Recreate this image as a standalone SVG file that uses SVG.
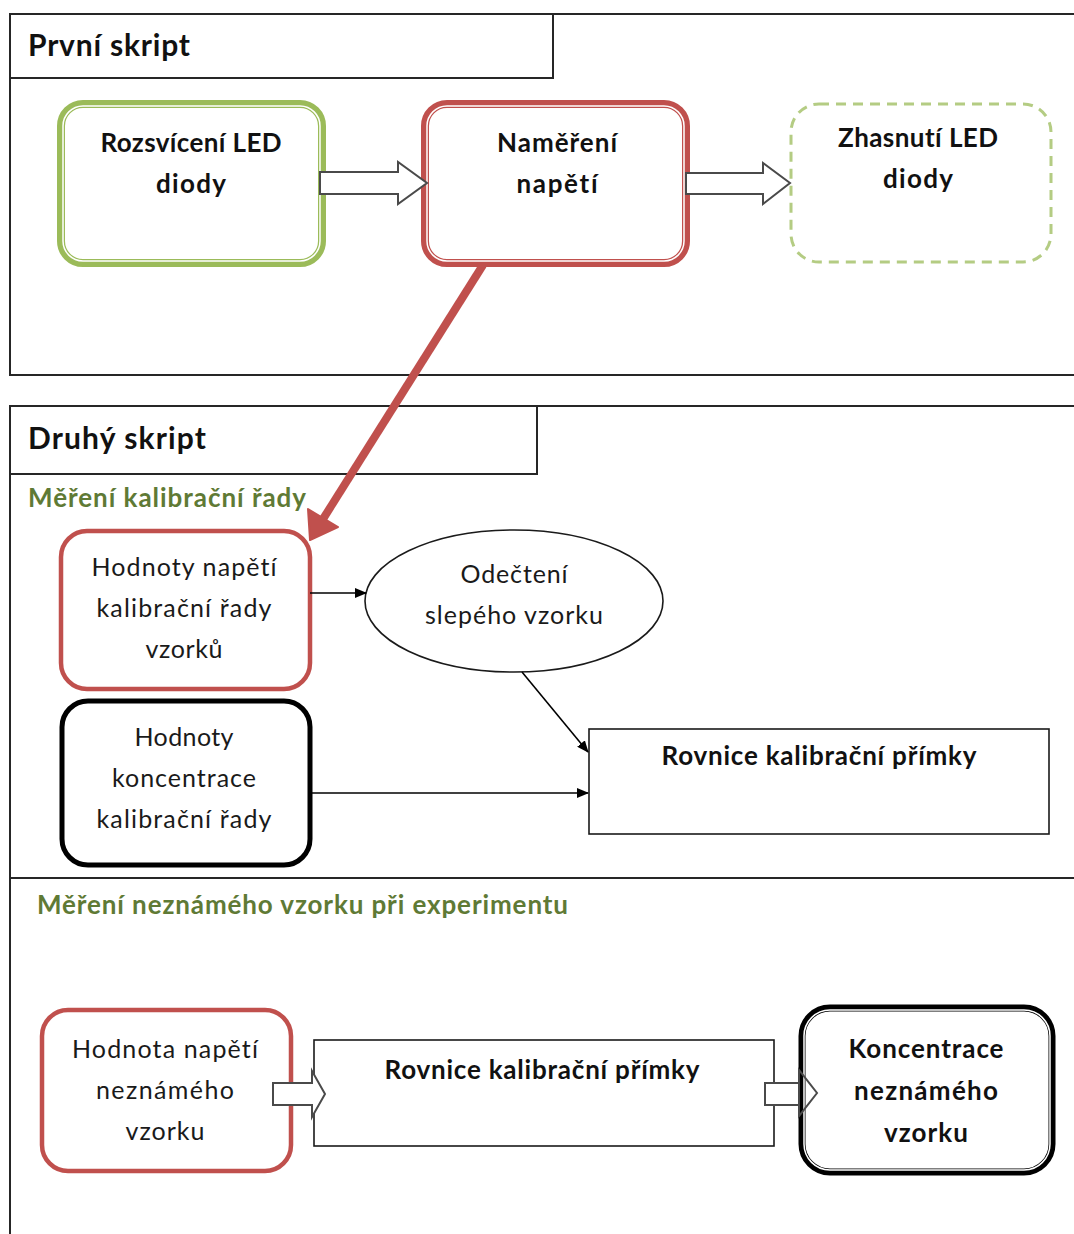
<svg xmlns="http://www.w3.org/2000/svg" width="1074" height="1234" viewBox="0 0 1074 1234">
  <style>
    text { font-family: Lato, "Open Sans", "Liberation Sans", sans-serif; font-variant-ligatures: none; font-feature-settings: "liga" 0, "clig" 0; }
    .frame { fill: none; stroke: #262626; stroke-width: 2; }
    .hdr { font-weight: bold; font-size: 30px; fill: #111; }
    .sub { font-weight: bold; font-size: 26px; fill: #5f7a35; }
    .bold { font-weight: bold; font-size: 26px; fill: #111; text-anchor: middle; }
    .reg { font-size: 25px; fill: #1a1a1a; text-anchor: middle; }
    .thick-green { fill: none; stroke: #9bbb59; stroke-width: 8; }
    .thick-red { fill: none; stroke: #c0504d; stroke-width: 8; }
    .thick-black { fill: none; stroke: #000; stroke-width: 7; }
    .gap { fill: none; stroke: #fff; stroke-width: 1.5; }
    .red-box { fill: none; stroke: #c0504d; stroke-width: 4.5; }
    .black-box { fill: none; stroke: #000; stroke-width: 5; }
    .plain { fill: none; stroke: #1a1a1a; stroke-width: 1.6; }
    .wire { fill: none; stroke: #000; stroke-width: 1.6; }
    .block { fill: #fff; stroke: #4a4a4a; stroke-width: 2; stroke-linejoin: miter; }
  </style>
  <defs>
    <marker id="tri" viewBox="0 0 12 10" refX="11" refY="5" markerWidth="12" markerHeight="10" markerUnits="userSpaceOnUse" orient="auto">
      <path d="M0,0 L12,5 L0,10 Z" fill="#000"/>
    </marker>
  </defs>

  <rect width="1074" height="1234" fill="#fff"/>

  <!-- first script frame -->
  <g id="frame-first">
    <path class="frame" d="M1074,14 H10 V375 H1074"/>
    <rect class="frame" x="10" y="14" width="543" height="64"/>
    <text class="hdr" x="28" y="56" textLength="162">První skript</text>
  </g>

  <!-- second script frame -->
  <g id="frame-second">
    <path class="frame" d="M1074,406 H10 V1234"/>
    <rect class="frame" x="10" y="406" width="527" height="68"/>
    <text class="hdr" x="28" y="449" textLength="178">Druhý skript</text>
    <path class="frame" d="M10,878 H1074"/>
    <text class="sub" x="28" y="507" textLength="278">Měření kalibrační řady</text>
    <text class="sub" x="37" y="914" textLength="531">Měření neznámého vzorku při experimentu</text>
  </g>

  <!-- first script nodes -->
  <g id="node-led-on">
    <rect class="thick-green" x="61" y="104" width="261" height="159" rx="22"/>
    <rect class="gap" x="63" y="106" width="257" height="155" rx="20"/>
    <text class="bold" x="191" y="152" textLength="181">Rozsvícení LED</text>
    <text class="bold" x="191" y="193" textLength="70">diody</text>
  </g>
  <g id="node-measure">
    <rect class="thick-red" x="425" y="104" width="261" height="159" rx="22"/>
    <rect class="gap" x="427" y="106" width="257" height="155" rx="20"/>
    <text class="bold" x="557" y="152" textLength="120">Naměření</text>
    <text class="bold" x="557" y="193" textLength="81">napětí</text>
  </g>
  <g id="node-led-off">
    <rect x="791" y="104" width="260" height="158" rx="28" fill="none" stroke="#9bbb59" stroke-opacity="0.75" stroke-width="3" stroke-dasharray="10 7"/>
    <text class="bold" x="918" y="147" textLength="160">Zhasnutí LED</text>
    <text class="bold" x="918" y="188" textLength="70">diody</text>
  </g>

  <!-- second script nodes -->
  <g id="node-cal-voltage">
    <rect class="red-box" x="61" y="531" width="249" height="158" rx="26"/>
    <text class="reg" x="184" y="576" textLength="185">Hodnoty napětí</text>
    <text class="reg" x="184" y="617" textLength="175">kalibrační řady</text>
    <text class="reg" x="184" y="658" textLength="77">vzorků</text>
  </g>
  <g id="node-cal-conc">
    <rect class="black-box" x="62" y="701" width="248" height="164" rx="26"/>
    <text class="reg" x="184" y="746" textLength="99">Hodnoty</text>
    <text class="reg" x="184" y="787" textLength="144">koncentrace</text>
    <text class="reg" x="184" y="828" textLength="175">kalibrační řady</text>
  </g>
  <g id="node-blank">
    <ellipse class="plain" cx="514" cy="601" rx="149" ry="71"/>
    <text class="reg" x="514" y="583" textLength="107">Odečtení</text>
    <text class="reg" x="514" y="624" textLength="178">slepého vzorku</text>
  </g>
  <g id="node-equation">
    <rect class="plain" x="589" y="729" width="460" height="105"/>
    <text class="bold" x="819" y="765" textLength="315">Rovnice kalibrační přímky</text>
  </g>
  <g id="node-unknown-voltage">
    <rect class="red-box" x="42" y="1010" width="249" height="161" rx="26"/>
    <text class="reg" x="165" y="1058" textLength="186">Hodnota napětí</text>
    <text class="reg" x="165" y="1099" textLength="138">neznámého</text>
    <text class="reg" x="165" y="1140" textLength="79">vzorku</text>
  </g>
  <g id="node-apply-equation">
    <rect class="plain" x="314" y="1040" width="460" height="106"/>
    <text class="bold" x="542" y="1079" textLength="315">Rovnice kalibrační přímky</text>
  </g>
  <g id="node-result">
    <rect class="thick-black" x="802" y="1008" width="250" height="164" rx="28"/>
    <rect class="gap" x="804" y="1010" width="246" height="160" rx="26"/>
    <text class="bold" x="926" y="1058" textLength="155">Koncentrace</text>
    <text class="bold" x="926" y="1100" textLength="144">neznámého</text>
    <text class="bold" x="926" y="1142" textLength="84">vzorku</text>
  </g>

  <!-- connectors -->
  <g id="connectors">
    <!-- block arrows, first script -->
    <path class="block" d="M320,172 H398 V162 L427,183 L398,204 V194 H320 Z"/>
    <path class="block" d="M686,173 H763 V163 L790,183 L763,204 V194 H686 Z"/>
    <!-- hand-over from first script to second -->
    <line x1="483" y1="265" x2="323" y2="519" stroke="#c0504d" stroke-width="8"/>
    <path d="M310,540 L308,509 L338,527 Z" fill="#c0504d" stroke="#c0504d" stroke-width="2" stroke-linejoin="round"/>
    <!-- thin arrows, calibration -->
    <line class="wire" x1="310" y1="593" x2="366" y2="593" marker-end="url(#tri)"/>
    <line class="wire" x1="522" y1="672" x2="588" y2="752" marker-end="url(#tri)"/>
    <line class="wire" x1="310" y1="793" x2="588" y2="793" marker-end="url(#tri)"/>
    <!-- block arrows, unknown sample -->
    <path class="block" d="M273,1083 H312 V1071 L325,1094 L312,1117 V1105 H273 Z"/>
    <path class="block" d="M765,1083 H799 V1105 H765 Z"/>
    <path d="M799,1083 V1070 L817,1093 L799,1116 V1105" fill="none" stroke="#4a4a4a" stroke-width="2"/>
  </g>
</svg>
